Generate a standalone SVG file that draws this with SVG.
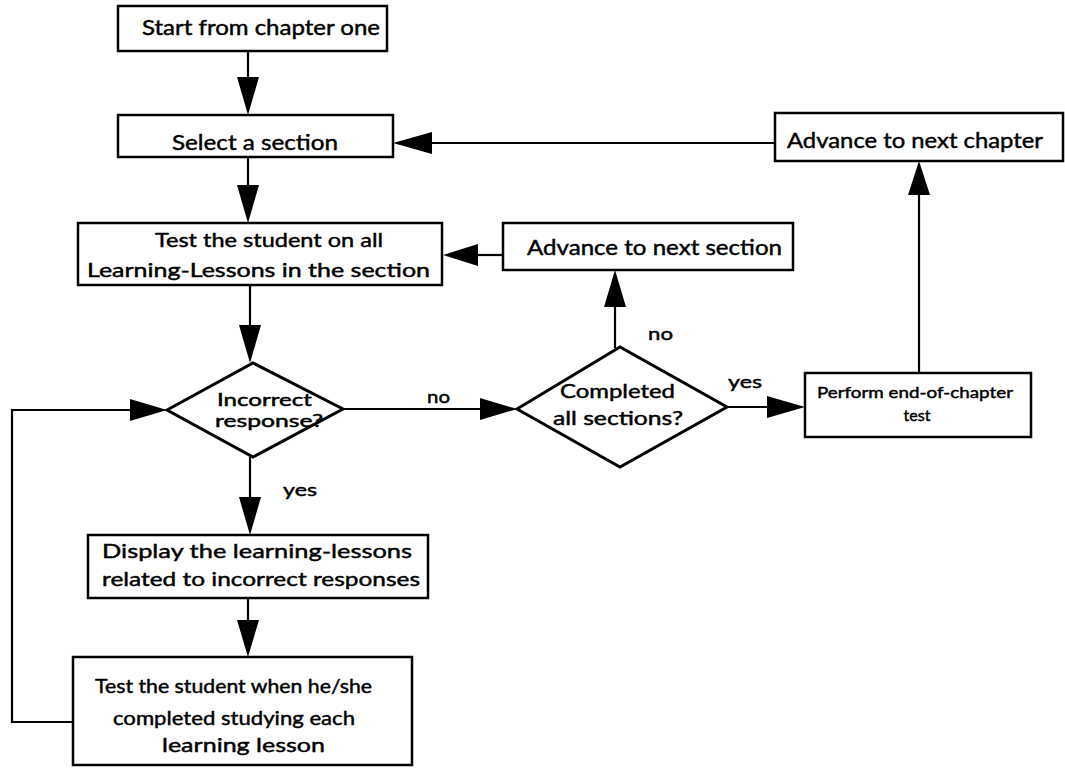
<svg xmlns="http://www.w3.org/2000/svg" width="1065" height="769" viewBox="0 0 1065 769">
  <style>
    .box { fill: #ffffff; stroke: #000000; stroke-width: 2.5; }
    .dia { fill: #ffffff; stroke: #000000; stroke-width: 3; stroke-linejoin: miter; }
    .ln { fill: none; stroke: #000000; stroke-width: 2.2; }
    .t { font-family: Lato, "Open Sans", "Liberation Sans", sans-serif; fill: #000000; stroke: #000000; stroke-width: 0.45; }
    .head { fill: #000000; }
  </style>
  <rect width="1065" height="769" fill="#ffffff"/>

  <!-- connectors: shafts plus filled triangular heads -->
  <g id="connectors">
    <!-- start -> select -->
    <line class="ln" x1="248" y1="51" x2="248" y2="80"/>
    <polygon class="head" points="237,77 259,77 248,115"/>
    <!-- select -> test all -->
    <line class="ln" x1="248" y1="157" x2="248" y2="188"/>
    <polygon class="head" points="237,185 259,185 248,223"/>
    <!-- test all -> incorrect? -->
    <line class="ln" x1="250" y1="285" x2="250" y2="328"/>
    <polygon class="head" points="239,325 261,325 250,363"/>
    <!-- incorrect? yes -> display -->
    <line class="ln" x1="250" y1="457" x2="250" y2="500"/>
    <polygon class="head" points="239,497 261,497 250,535"/>
    <!-- display -> test when -->
    <line class="ln" x1="248" y1="598" x2="248" y2="623"/>
    <polygon class="head" points="237,620 259,620 248,657"/>
    <!-- loop back from test when -> incorrect? -->
    <polyline class="ln" points="73,722 12,722 12,410 133,410"/>
    <polygon class="head" points="130,399 130,421 167,410"/>
    <!-- incorrect? no -> completed? -->
    <line class="ln" x1="343" y1="409" x2="483" y2="409"/>
    <polygon class="head" points="480,398 480,420 517,409"/>
    <!-- completed? no -> advance section -->
    <line class="ln" x1="615" y1="348" x2="615" y2="304"/>
    <polygon class="head" points="604,307 626,307 615,270"/>
    <!-- advance section -> test all -->
    <line class="ln" x1="503" y1="255" x2="475" y2="255"/>
    <polygon class="head" points="478,244 478,266 443,255"/>
    <!-- completed? yes -> perform test -->
    <line class="ln" x1="727" y1="407" x2="770" y2="407"/>
    <polygon class="head" points="767,396 767,418 805,407"/>
    <!-- perform test -> advance chapter -->
    <line class="ln" x1="919" y1="373" x2="919" y2="192"/>
    <polygon class="head" points="908,195 930,195 919,161"/>
    <!-- advance chapter -> select -->
    <line class="ln" x1="775" y1="143" x2="429" y2="143"/>
    <polygon class="head" points="432,132 432,154 393,143"/>
  </g>

  <g id="start">
    <rect class="box" x="118" y="6" width="269" height="45"/>
    <text class="t" x="142" y="35" font-size="21" textLength="238" lengthAdjust="spacingAndGlyphs">Start from chapter one</text>
  </g>

  <g id="select">
    <rect class="box" x="118" y="115" width="275" height="42"/>
    <text class="t" x="172" y="150" font-size="21" textLength="166" lengthAdjust="spacingAndGlyphs">Select a section</text>
  </g>

  <g id="advance-chapter">
    <rect class="box" x="775" y="113" width="288" height="48"/>
    <text class="t" x="787" y="148" font-size="22" textLength="256" lengthAdjust="spacingAndGlyphs">Advance to next chapter</text>
  </g>

  <g id="test-all">
    <rect class="box" x="78" y="223" width="364" height="62"/>
    <text class="t" x="155" y="247" font-size="20" textLength="228" lengthAdjust="spacingAndGlyphs">Test the student on all</text>
    <text class="t" x="87" y="277" font-size="20" textLength="343" lengthAdjust="spacingAndGlyphs">Learning-Lessons in the section</text>
  </g>

  <g id="advance-section">
    <rect class="box" x="503" y="223" width="290" height="47"/>
    <text class="t" x="527" y="255" font-size="21" textLength="255" lengthAdjust="spacingAndGlyphs">Advance to next section</text>
  </g>

  <g id="incorrect">
    <polygon class="dia" points="167,410 253,363 343,409 253,457"/>
    <text class="t" x="217" y="406" font-size="16.5" textLength="95" lengthAdjust="spacingAndGlyphs">Incorrect</text>
    <text class="t" x="215" y="427" font-size="16.5" textLength="108" lengthAdjust="spacingAndGlyphs">response?</text>
  </g>

  <g id="completed">
    <polygon class="dia" points="517,409 620,347 727,407 620,467"/>
    <text class="t" x="560" y="398" font-size="19" textLength="115" lengthAdjust="spacingAndGlyphs">Completed</text>
    <text class="t" x="553" y="425" font-size="19" textLength="130" lengthAdjust="spacingAndGlyphs">all sections?</text>
  </g>

  <g id="perform">
    <rect class="box" x="805" y="373" width="226" height="64"/>
    <text class="t" x="817" y="398" font-size="16" textLength="196" lengthAdjust="spacingAndGlyphs">Perform end-of-chapter</text>
    <text class="t" x="917" y="421" font-size="16" text-anchor="middle">test</text>
  </g>

  <g id="display">
    <rect class="box" x="88" y="535" width="340" height="63"/>
    <text class="t" x="102" y="558" font-size="20" textLength="310" lengthAdjust="spacingAndGlyphs">Display the learning-lessons</text>
    <text class="t" x="102" y="586" font-size="20" textLength="318" lengthAdjust="spacingAndGlyphs">related to incorrect responses</text>
  </g>

  <g id="test-when">
    <rect class="box" x="73" y="657" width="339" height="108"/>
    <text class="t" x="95" y="693" font-size="20" textLength="277" lengthAdjust="spacingAndGlyphs">Test the student when he/she</text>
    <text class="t" x="113" y="725" font-size="20" textLength="242" lengthAdjust="spacingAndGlyphs">completed studying each</text>
    <text class="t" x="162" y="752" font-size="20" textLength="163" lengthAdjust="spacingAndGlyphs">learning lesson</text>
  </g>

  <!-- branch labels -->
  <g id="labels">
    <text class="t" x="648" y="340" font-size="18" textLength="25" lengthAdjust="spacingAndGlyphs">no</text>
    <text class="t" x="427" y="403" font-size="18" textLength="23" lengthAdjust="spacingAndGlyphs">no</text>
    <text class="t" x="728" y="388" font-size="18" textLength="34" lengthAdjust="spacingAndGlyphs">yes</text>
    <text class="t" x="283" y="496" font-size="18" textLength="34" lengthAdjust="spacingAndGlyphs">yes</text>
  </g>
</svg>
